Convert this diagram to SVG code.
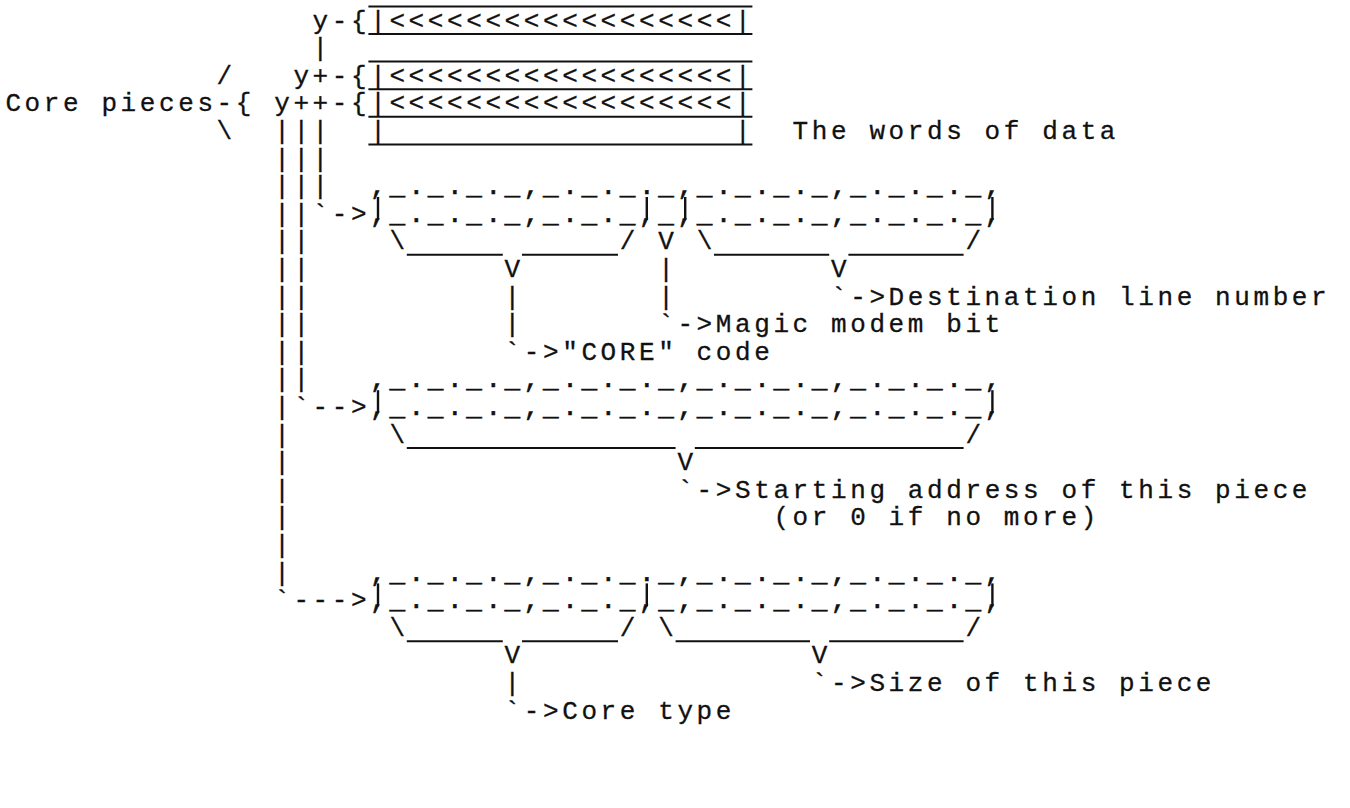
<svg xmlns="http://www.w3.org/2000/svg" width="1350" height="808" viewBox="0 0 1350 808" xml:space="preserve">
<style>
text { font-family: "Liberation Mono", "DejaVu Sans Mono", monospace; font-size: 26px; letter-spacing: 3.6px; fill: #111; stroke: #111; stroke-width: 0.3px; white-space: pre; }
text.reg { stroke-width: 0.6px; }
line { stroke: #111; stroke-width: 2; }
line.bar { stroke-width: 2.4; }
</style>
<rect width="1350" height="808" fill="#fff"/>
<g id="data-words">
<line x1="368.4" y1="6.4" x2="752.4" y2="6.4"/>
<line x1="368.4" y1="34" x2="752.4" y2="34"/>
<line x1="368.4" y1="61.6" x2="752.4" y2="61.6"/>
<line x1="368.4" y1="89.2" x2="752.4" y2="89.2"/>
<line x1="368.4" y1="116.8" x2="752.4" y2="116.8"/>
<line x1="368.4" y1="144.4" x2="752.4" y2="144.4"/>
<text x="370.2" y="28.5">|&lt;&lt;&lt;&lt;&lt;&lt;&lt;&lt;&lt;&lt;&lt;&lt;&lt;&lt;&lt;&lt;&lt;&lt;|</text>
<text x="370.2" y="83.7">|&lt;&lt;&lt;&lt;&lt;&lt;&lt;&lt;&lt;&lt;&lt;&lt;&lt;&lt;&lt;&lt;&lt;&lt;|</text>
<text x="370.2" y="111.3">|&lt;&lt;&lt;&lt;&lt;&lt;&lt;&lt;&lt;&lt;&lt;&lt;&lt;&lt;&lt;&lt;&lt;&lt;|</text>
<text x="370.2" y="138.9">|                  |</text>
<text x="792.6" y="138.9">The words of data</text>
</g>
<g id="core-pieces">
<text x="216.6" y="83.7">/</text>
<text x="5.4" y="111.3">Core pieces-{</text>
<text x="216.6" y="138.9">\</text>
</g>
<g id="pointers">
<text x="312.6" y="28.5">y-{</text>
<text x="293.4" y="83.7">y+-{</text>
<text x="274.2" y="111.3">y++-{</text>
</g>
<g id="register-1">
<text class="reg" x="370.2" y="194.1">,_._._._,_._._._,_._._._,_._._._,</text>
<text class="reg" x="370.2" y="221.7">,_._._._,_._._,_,_._._._,_._._._,</text>
<line class="bar" x1="378" y1="197" x2="378" y2="220"/>
<line class="bar" x1="646.8" y1="197" x2="646.8" y2="220"/>
<line class="bar" x1="685.2" y1="197" x2="685.2" y2="220"/>
<line class="bar" x1="992.4" y1="197" x2="992.4" y2="220"/>
<text x="389.4" y="249.3">\           / V \             /</text>
<line x1="406.8" y1="254.8" x2="502.8" y2="254.8"/>
<line x1="522" y1="254.8" x2="618" y2="254.8"/>
<line x1="714" y1="254.8" x2="829.2" y2="254.8"/>
<line x1="848.4" y1="254.8" x2="963.6" y2="254.8"/>
<text x="504.6" y="276.9">V       |        V</text>
</g>
<g id="label-destination"><text x="831" y="304.5">`-&gt;Destination line number</text></g>
<g id="label-magic"><text x="658.2" y="332.1">`-&gt;Magic modem bit</text></g>
<g id="label-core"><text x="504.6" y="359.7">`-&gt;"CORE" code</text></g>
<g id="register-2">
<text class="reg" x="370.2" y="387.3">,_._._._,_._._._,_._._._,_._._._,</text>
<text class="reg" x="370.2" y="414.9">,_._._._,_._._._,_._._._,_._._._,</text>
<line class="bar" x1="378" y1="390.2" x2="378" y2="413.2"/>
<line class="bar" x1="992.4" y1="390.2" x2="992.4" y2="413.2"/>
<text x="389.4" y="442.5">\                             /</text>
<line x1="406.8" y1="448" x2="675.6" y2="448"/>
<line x1="694.8" y1="448" x2="963.6" y2="448"/>
<text x="677.4" y="470.1">V</text>
</g>
<g id="label-starting">
<text x="677.4" y="497.7">`-&gt;Starting address of this piece</text>
<text x="773.4" y="525.3">(or 0 if no more)</text>
</g>
<g id="register-3">
<text class="reg" x="370.2" y="580.5">,_._._._,_._._._,_._._._,_._._._,</text>
<text class="reg" x="370.2" y="608.1">,_._._._,_._._,_,_._._._,_._._._,</text>
<line class="bar" x1="378" y1="583.4" x2="378" y2="606.4"/>
<line class="bar" x1="646.8" y1="583.4" x2="646.8" y2="606.4"/>
<line class="bar" x1="992.4" y1="583.4" x2="992.4" y2="606.4"/>
<text x="389.4" y="635.7">\           / \               /</text>
<line x1="406.8" y1="641.2" x2="502.8" y2="641.2"/>
<line x1="522" y1="641.2" x2="618" y2="641.2"/>
<line x1="675.6" y1="641.2" x2="810" y2="641.2"/>
<line x1="829.2" y1="641.2" x2="963.6" y2="641.2"/>
<text x="504.6" y="663.3">V               V</text>
</g>
<g id="label-size"><text x="811.8" y="690.9">`-&gt;Size of this piece</text></g>
<g id="label-core-type"><text x="504.6" y="718.5">`-&gt;Core type</text></g>
<g id="connectors">
<text x="312.6" y="56.1">|</text>
<text x="274.2" y="138.9">|||</text>
<text x="274.2" y="166.5">|||</text>
<text x="274.2" y="194.1">|||</text>
<text x="274.2" y="221.7">||`-&gt;</text>
<text x="274.2" y="249.3">||</text>
<text x="274.2" y="276.9">||</text>
<text x="274.2" y="304.5">||</text>
<text x="274.2" y="332.1">||</text>
<text x="274.2" y="359.7">||</text>
<text x="274.2" y="387.3">||</text>
<text x="274.2" y="414.9">|`--&gt;</text>
<text x="274.2" y="442.5">|</text>
<text x="274.2" y="470.1">|</text>
<text x="274.2" y="497.7">|</text>
<text x="274.2" y="525.3">|</text>
<text x="274.2" y="552.9">|</text>
<text x="274.2" y="580.5">|</text>
<text x="274.2" y="608.1">`---&gt;</text>
<text x="504.6" y="304.5">|       |</text>
<text x="504.6" y="332.1">|</text>
<text x="504.6" y="690.9">|</text>
</g>
</svg>
